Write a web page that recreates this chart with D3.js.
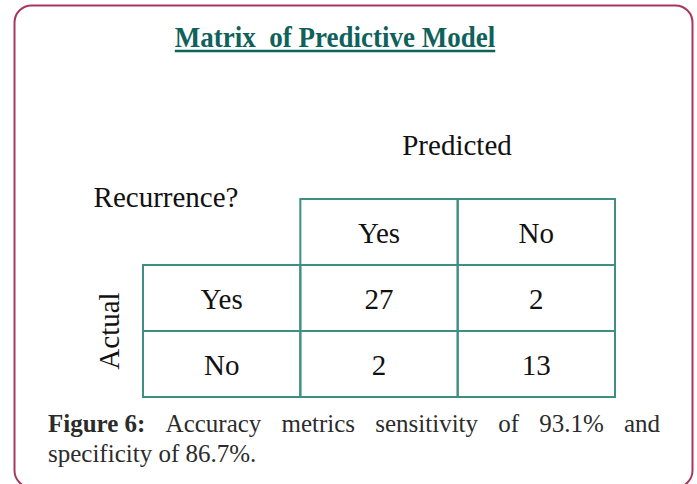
<!DOCTYPE html>
<html>
<head>
<meta charset="utf-8">
<script src="https://cdn.jsdelivr.net/npm/d3@7"></script>
<style>
  body { margin: 0; background: #fff; }
  svg { display: block; }
</style>
</head>
<body>
<div id="chart"></div>
<script>
// Confusion matrix values
const predicted = ["Yes", "No"];
const actual = ["Yes", "No"];
const counts = [
	[27, 2],
	[2, 13],
];
const title = "Matrix  of Predictive Model";
const captionBold = "Figure 6:";
const captionLine1 = "Accuracy metrics sensitivity of 93.1% and";
const captionLine2 = "specificity of 86.7%.";

const width = 697;
const height = 484;
const serif = "'Liberation Serif', 'Times New Roman', serif";
const gridColor = "#3e8e83";

const svg = d3
	.select("#chart")
	.append("svg")
	.attr("width", width)
	.attr("height", height);

// Rounded frame
svg
	.append("rect")
	.attr("x", 14.5)
	.attr("y", 5.5)
	.attr("width", 678)
	.attr("height", 482)
	.attr("rx", 17)
	.attr("fill", "none")
	.attr("stroke", "#a6375f")
	.attr("stroke-width", 2);

// Title with underline (slightly stretched vertically like the original)
const titleG = svg.append("g").attr("transform", "translate(335,47) scale(1,1.1)");
const titleText = titleG
	.append("text")
	.attr("text-anchor", "middle")
	.attr("font-family", serif)
	.attr("font-weight", "bold")
	.attr("font-size", 27)
	.attr("fill", "#0f625c")
	.style("white-space", "pre")
	.text(title);
const tb = titleText.node().getBBox();
svg
	.append("line")
	.attr("x1", 335 + tb.x)
	.attr("x2", 335 + tb.x + tb.width)
	.attr("y1", 51)
	.attr("y2", 51)
	.attr("stroke", "#0f625c")
	.attr("stroke-width", 2.5);

// Scales for the matrix grid
const x = d3.scaleBand().domain(["label", ...predicted]).range([143, 615]);
const y = d3.scaleBand().domain(["header", ...actual]).range([199, 397]);

const cells = [];
predicted.forEach((p) => cells.push({ col: p, row: "header" }));
actual.forEach((a) => {
	cells.push({ col: "label", row: a });
	predicted.forEach((p) => cells.push({ col: p, row: a }));
});

svg
	.append("g")
	.selectAll("rect")
	.data(cells)
	.join("rect")
	.attr("x", (d) => x(d.col))
	.attr("y", (d) => y(d.row))
	.attr("width", x.bandwidth())
	.attr("height", y.bandwidth())
	.attr("fill", "none")
	.attr("stroke", gridColor)
	.attr("stroke-width", 2);

const labels = svg
	.append("g")
	.attr("font-family", serif)
	.attr("font-size", 29)
	.attr("fill", "#111")
	.attr("text-anchor", "middle");

// Column headers
labels
	.selectAll(".col")
	.data(predicted)
	.join("text")
	.attr("class", "col")
	.attr("x", (d) => x(d) + x.bandwidth() / 2)
	.attr("y", y("header") + y.bandwidth() / 2 + 11)
	.text((d) => d);

// Row headers
labels
	.selectAll(".row")
	.data(actual)
	.join("text")
	.attr("class", "row")
	.attr("x", x("label") + x.bandwidth() / 2)
	.attr("y", (d) => y(d) + y.bandwidth() / 2 + 11)
	.text((d) => d);

// Values
const values = [];
actual.forEach((a, i) =>
	predicted.forEach((p, j) => values.push({ row: a, col: p, v: counts[i][j] }))
);
labels
	.selectAll(".val")
	.data(values)
	.join("text")
	.attr("class", "val")
	.attr("x", (d) => x(d.col) + x.bandwidth() / 2)
	.attr("y", (d) => y(d.row) + y.bandwidth() / 2 + 11)
	.text((d) => d.v);

labels
	.append("text")
	.attr("x", 457)
	.attr("y", 155)
	.text("Predicted");

labels
	.append("text")
	.attr("x", 166)
	.attr("y", 207)
	.text("Recurrence?");

labels
	.append("text")
	.attr("transform", `translate(119,${y("Yes") + y.bandwidth()})rotate(-90)`)
	.text("Actual");

// Caption, first line justified
const cap = svg
	.append("g")
	.attr("font-family", serif)
	.attr("font-size", 25)
	.attr("fill", "#2b2b2b");

const words = [captionBold, ...captionLine1.split(" ")];
const left = 48;
const right = 660;
const wordNodes = words.map((w, i) =>
	cap
		.append("text")
		.attr("y", 432)
		.attr("font-weight", i === 0 ? "bold" : "normal")
		.text(w)
);
const widths = wordNodes.map((n) => n.node().getComputedTextLength());
const gap = (right - left - d3.sum(widths)) / (words.length - 1);
let cx = left;
wordNodes.forEach((n, i) => {
	n.attr("x", cx);
	cx += widths[i] + gap;
});

cap.append("text").attr("x", left).attr("y", 462).text(captionLine2);
</script>
</body>
</html>
